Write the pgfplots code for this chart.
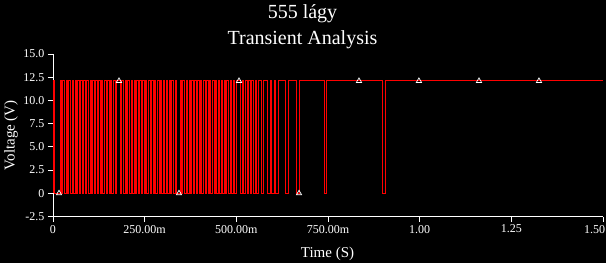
\documentclass[border=0pt]{standalone}
\usepackage{pgfplots}
\pgfplotsset{compat=1.18}
\usepackage{fontspec}
\setmainfont{Liberation Serif}
\begin{document}
\begin{tikzpicture}
\fill[black] (-53pt,-46.5pt) rectangle (553pt,216.5pt);
\begin{axis}[
  at={(0pt,0pt)}, anchor=south west,
  scale only axis, width=550pt, height=162.5pt,
  xmin=0, xmax=1.5, ymin=-2.5, ymax=15,
  axis x line*=bottom, axis y line*=left,
  axis line style={white, line width=0.8pt, -},
  xtick={0,0.25,0.5,0.75,1,1.25,1.5},
  xticklabels={0,250.00m,500.00m,750.00m,1.00,1.25,\llap{1.50\hspace{-2pt}}},
  ytick={-2.5,0,2.5,5,7.5,10,12.5,15},
  yticklabels={-2.5,0,2.5,5.0,7.5,10.0,12.5,15.0},
  tick align=outside, major tick length=5pt,
  tick style={white, line width=0.8pt},
  ticklabel style={text=white, font=\fontsize{12}{12}\selectfont},
]
\addplot[red, line width=0.9pt, mark=none] coordinates {
(0,0)(0,12.1)
(0.004,12.1)(0.004,0)(0.019,0)(0.019,12.1)
(0.023,12.1)(0.023,0)(0.027,0)(0.027,12.1)
(0.031,12.1)(0.031,0)(0.036,0)(0.036,12.1)
(0.040,12.1)(0.040,0)(0.043,0)(0.043,12.1)
(0.047,12.1)(0.047,0)(0.052,0)(0.052,12.1)
(0.056,12.1)(0.056,0)(0.060,0)(0.060,12.1)
(0.064,12.1)(0.064,0)(0.067,0)(0.067,12.1)
(0.071,12.1)(0.071,0)(0.076,0)(0.076,12.1)
(0.080,12.1)(0.080,0)(0.084,0)(0.084,12.1)
(0.089,12.1)(0.089,0)(0.092,0)(0.092,12.1)
(0.096,12.1)(0.096,0)(0.101,0)(0.101,12.1)
(0.105,12.1)(0.105,0)(0.108,0)(0.108,12.1)
(0.112,12.1)(0.112,0)(0.117,0)(0.117,12.1)
(0.121,12.1)(0.121,0)(0.125,0)(0.125,12.1)
(0.129,12.1)(0.129,0)(0.132,0)(0.132,12.1)
(0.136,12.1)(0.136,0)(0.141,0)(0.141,12.1)
(0.145,12.1)(0.145,0)(0.149,0)(0.149,12.1)
(0.153,12.1)(0.153,0)(0.156,0)(0.156,12.1)
(0.160,12.1)(0.160,0)(0.165,0)(0.165,12.1)
(0.169,12.1)(0.169,0)(0.173,0)(0.173,12.1)
(0.184,12.1)(0.184,0)(0.188,0)(0.188,12.1)
(0.192,12.1)(0.192,0)(0.197,0)(0.197,12.1)
(0.201,12.1)(0.201,0)(0.204,0)(0.204,12.1)
(0.208,12.1)(0.208,0)(0.213,0)(0.213,12.1)
(0.217,12.1)(0.217,0)(0.221,0)(0.221,12.1)
(0.225,12.1)(0.225,0)(0.228,0)(0.228,12.1)
(0.232,12.1)(0.232,0)(0.237,0)(0.237,12.1)
(0.241,12.1)(0.241,0)(0.245,0)(0.245,12.1)
(0.249,12.1)(0.249,0)(0.252,0)(0.252,12.1)
(0.256,12.1)(0.256,0)(0.261,0)(0.261,12.1)
(0.265,12.1)(0.265,0)(0.269,0)(0.269,12.1)
(0.273,12.1)(0.273,0)(0.276,0)(0.276,12.1)
(0.280,12.1)(0.280,0)(0.285,0)(0.285,12.1)
(0.289,12.1)(0.289,0)(0.293,0)(0.293,12.1)
(0.297,12.1)(0.297,0)(0.300,0)(0.300,12.1)
(0.304,12.1)(0.304,0)(0.309,0)(0.309,12.1)
(0.313,12.1)(0.313,0)(0.317,0)(0.317,12.1)
(0.321,12.1)(0.321,0)(0.324,0)(0.324,12.1)
(0.328,12.1)(0.328,0)(0.333,0)(0.333,12.1)
(0.338,12.1)(0.338,0)(0.347,0)(0.347,12.1)
(0.351,12.1)(0.351,0)(0.354,0)(0.354,12.1)
(0.358,12.1)(0.358,0)(0.363,0)(0.363,12.1)
(0.367,12.1)(0.367,0)(0.371,0)(0.371,12.1)
(0.375,12.1)(0.375,0)(0.378,0)(0.378,12.1)
(0.382,12.1)(0.382,0)(0.387,0)(0.387,12.1)
(0.391,12.1)(0.391,0)(0.395,0)(0.395,12.1)
(0.399,12.1)(0.399,0)(0.402,0)(0.402,12.1)
(0.406,12.1)(0.406,0)(0.411,0)(0.411,12.1)
(0.415,12.1)(0.415,0)(0.419,0)(0.419,12.1)
(0.423,12.1)(0.423,0)(0.426,0)(0.426,12.1)
(0.430,12.1)(0.430,0)(0.435,0)(0.435,12.1)
(0.439,12.1)(0.439,0)(0.443,0)(0.443,12.1)
(0.447,12.1)(0.447,0)(0.450,0)(0.450,12.1)
(0.454,12.1)(0.454,0)(0.459,0)(0.459,12.1)
(0.463,12.1)(0.463,0)(0.467,0)(0.467,12.1)
(0.471,12.1)(0.471,0)(0.474,0)(0.474,12.1)
(0.478,12.1)(0.478,0)(0.483,0)(0.483,12.1)
(0.487,12.1)(0.487,0)(0.491,0)(0.491,12.1)
(0.495,12.1)(0.495,0)(0.499,0)(0.499,12.1)
(0.512,12.1)(0.512,0)(0.516,0)(0.516,12.1)
(0.520,12.1)(0.520,0)(0.524,0)(0.524,12.1)
(0.529,12.1)(0.529,0)(0.533,0)(0.533,12.1)
(0.538,12.1)(0.538,0)(0.541,0)(0.541,12.1)
(0.546,12.1)(0.546,0)(0.551,0)(0.551,12.1)
(0.556,12.1)(0.556,0)(0.560,0)(0.560,12.1)
(0.569,12.1)(0.569,0)(0.575,0)(0.575,12.1)
(0.584,12.1)(0.584,0)(0.592,0)(0.592,12.1)
(0.597,12.1)(0.597,0)(0.603,0)(0.603,12.1)
(0.608,12.1)(0.608,0)(0.616,0)(0.616,12.1)
(0.633,12.1)(0.633,0)(0.642,0)(0.642,12.1)
(0.663,12.1)(0.663,0)(0.672,0)(0.672,12.1)
(0.740,12.1)(0.740,0)(0.746,0)(0.746,12.1)
(0.899,12.1)(0.899,0)(0.907,0)(0.907,12.1)
(1.5,12.1)
};
\addplot[only marks, mark=triangle, mark size=3pt, white, mark options={line width=0.7pt}] coordinates {
(0.0164,0)(0.18,12.1)(0.3436,0)(0.5073,12.1)(0.671,0)(0.8345,12.1)(0.998,12.1)(1.1618,12.1)(1.3254,12.1)
};
\end{axis}
\node[white, font=\fontsize{20}{24}\selectfont, anchor=base] at (249.5pt,197.5pt) {555 lágy};
\node[white, font=\fontsize{20}{24}\selectfont, anchor=base] at (249.5pt,172.5pt) {Transient Analysis};
\node[white, font=\fontsize{15}{18}\selectfont, rotate=90] at (-42pt,81.25pt) {Voltage (V)};
\node[white, font=\fontsize{15}{18}\selectfont] at (274.5pt,-37.5pt) {Time (S)};
\pgfresetboundingbox
\path (-53pt,-46.5pt) rectangle (553pt,216.5pt);
\end{tikzpicture}
\end{document}
